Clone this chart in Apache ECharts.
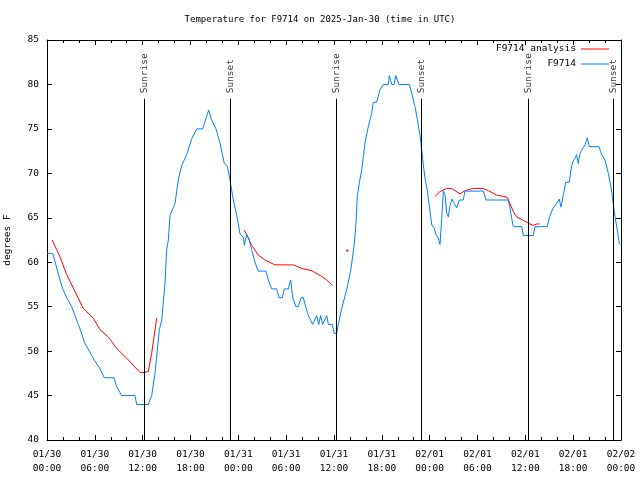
<!DOCTYPE html>
<html>
<head>
<meta charset="utf-8">
<script src="https://cdn.jsdelivr.net/npm/echarts@6/dist/echarts.min.js"></script>
<style>html,body{margin:0;padding:0;background:#fff}#c{width:640px;height:480px}</style>
</head>
<body>
<div id="c"></div>
<script>
// hours since 2025-01-30 00:00 UTC
var obsHours = [0.00,0.72,1.00,1.63,1.97,2.47,3.10,3.51,3.93,4.35,4.68,5.31,5.93,6.65,7.19,8.40,8.74,9.37,11.04,11.25,12.71,13.13,13.55,14.09,14.39,14.80,15.01,15.22,15.43,16.06,16.47,16.90,17.52,18.15,18.78,19.53,19.94,20.28,20.66,21.20,21.70,22.24,22.62,22.95,23.37,23.79,24.21,24.62,24.75,25.05,25.34,25.68,26.09,26.51,27.47,27.76,28.19,28.81,29.10,29.52,29.77,30.27,30.57,30.82,31.23,31.52,31.86,32.15,32.45,32.78,33.33,33.53,33.83,34.08,34.33,34.58,35.09,35.29,35.79,36.04,36.34,36.54,36.97,37.59,38.10,38.51,38.76,38.92,39.17,39.48,39.89,40.30,40.73,40.93,41.35,41.77,42.19,42.81,42.94,43.24,43.53,43.74,43.99,44.15,45.45,45.75,46.16,46.45,46.79,47.00,47.20,47.42,47.70,47.95,48.26,48.54,48.80,49.08,49.30,49.51,49.71,49.92,50.14,50.34,50.55,50.80,51.05,51.39,51.72,52.22,52.43,54.73,55.07,57.87,58.08,58.29,58.49,59.55,59.75,61.00,61.21,62.76,63.01,63.43,63.93,64.26,64.47,64.76,65.06,65.52,65.73,65.94,66.23,66.44,66.64,66.86,67.20,67.49,67.77,68.03,69.24,69.58,70.00,70.41,70.74,71.03,71.25,71.54,71.79,71.94];
var obsTemps = [61.0,61.0,60.1,58.0,57.0,56.0,55.0,54.0,53.0,52.0,51.0,50.0,49.0,48.0,47.0,47.0,46.0,45.0,45.0,44.0,44.0,45.0,47.5,52.4,53.5,57.6,61.4,62.5,65.3,66.6,69.3,70.9,72.1,73.9,75.0,75.0,76.2,77.1,76.0,75.0,73.4,71.1,70.8,69.25,67.0,65.3,63.2,62.8,61.9,63.1,62.6,61.4,60.0,59.0,59.0,58.0,57.0,57.0,56.0,56.0,57.0,57.0,58.0,56.0,55.0,55.0,56.0,56.0,55.0,54.0,53.0,53.0,54.0,53.0,54.0,53.0,54.0,53.0,53.0,52.0,52.0,53.0,54.8,56.9,59.1,61.75,64.4,67.4,68.9,70.4,73.4,75.25,76.75,78.0,78.0,79.4,80.0,80.0,81.0,80.0,80.0,81.0,81.0,80.0,80.0,79.0,77.5,76.1,74.3,72.6,71.0,69.4,68.1,66.4,64.2,63.9,63.1,62.7,62.0,64.9,68.0,67.6,65.5,65.1,66.4,67.1,67.0,66.1,67.0,67.0,68.0,68.0,67.0,67.0,66.1,64.9,64.0,64.0,63.0,63.0,64.0,64.0,65.0,66.0,66.6,67.1,66.2,67.5,69.0,69.0,70.4,71.3,71.7,72.1,71.1,72.25,72.8,73.2,74.0,73.0,73.0,72.1,71.5,70.0,68.5,66.6,65.1,63.6,62.1,62.0];

// analysis (null = gap)
var anaHours = [0.66,1.63,2.47,3.30,4.55,5.81,6.65,7.69,8.74,10.00,11.04,11.67,12.17,12.71,13.13,13.42,13.76,19.0,
  24.75,25.05,25.68,26.51,27.35,28.60,30.90,31.95,33.20,34.46,35.09,35.79,36.7,
  37.67,38.2,
  48.67,49.30,50.14,50.77,51.18,51.81,52.43,53.06,53.48,54.73,55.36,56.41,57.24,57.74,58.08,58.49,58.92,59.75,60.59,61.00,61.43,61.78];
var anaTemps = [62.5,60.6,58.6,57.1,54.8,53.7,52.4,51.6,50.3,49.2,48.2,47.6,47.6,47.7,49.75,51.6,53.7,null,
  63.6,63.1,61.9,60.8,60.25,59.7,59.7,59.3,59.05,58.4,58.0,57.4,null,
  61.3,null,
  67.4,67.95,68.3,68.3,68.05,67.7,68.05,68.2,68.3,68.3,68.05,67.55,67.4,67.3,66.6,65.7,65.1,64.7,64.3,64.15,64.3,64.3];

var sunHours = [12.21, 22.99, 36.29, 46.95, 60.38, 71.04];
var sunNames = ['Sunrise','Sunset','Sunrise','Sunset','Sunrise','Sunset'];

var dayLabels = ['01/30','01/31','02/01','02/02'];
var yTicks = [40,45,50,55,60,65,70,75,80,85];

var FONT = 'DejaVu Sans Mono';
var FS = 9.5;

function zip(a,b){var r=[];for(var i=0;i<a.length;i++){r.push(b[i]===null?[a[i],null]:[a[i],b[i]]);}return r;}
var anaData = zip(anaHours, anaTemps).map(function(p, i){
  var prevNull = i===0 || anaTemps[i-1]===null;
  var nextNull = i===anaTemps.length-1 || anaTemps[i+1]===null;
  if (p[1]!==null && prevNull && nextNull) return {value:p, symbol:'rect', symbolSize:[2,2], itemStyle:{color:'#ff0000'}};
  return {value:p, symbol:'none'};
});

function xLabel(v){
  var d = Math.floor(v/24+1e-6), h = Math.round(v - d*24);
  var hh = (h<10?'0':'')+h;
  return dayLabels[d] + '\n' + hh + ':00';
}

var chart = echarts.init(document.getElementById('c'), null, {renderer:'canvas'});
var legendIcon = 'path://M0,0 L28,0 L28,1 L0,1 Z';
chart.setOption({
  animation:false,
  backgroundColor:'#fff',
  title:{text:'Temperature for F9714 on 2025-Jan-30 (time in UTC)', left:'center', top:10,
    textStyle:{fontFamily:FONT,fontSize:9,fontWeight:'normal',color:'#000'}},
  grid:{left:47,right:19,top:40,bottom:40,containLabel:false,outerBoundsMode:'none'},
  legend:{orient:'vertical', right:31, top:44, align:'right', itemWidth:28, itemHeight:1, itemGap:5, padding:0,
    textStyle:{fontFamily:FONT,fontSize:FS,color:'#000'},
    data:[{name:'F9714 analysis', icon:legendIcon},{name:'F9714', icon:legendIcon}]},
  xAxis:[{type:'value', min:0, max:72, interval:6, position:'bottom',
    axisLine:{show:true,onZero:false,lineStyle:{color:'#000',width:1}},
    axisTick:{show:true,inside:true,length:5,lineStyle:{color:'#000'}},
    minorTick:{show:true,splitNumber:3,length:3,lineStyle:{color:'#000'}},
    splitLine:{show:false},
    axisLabel:{formatter:xLabel, fontFamily:FONT, fontSize:FS, color:'#000', margin:8, lineHeight:14}},
   {type:'value', min:0, max:72, interval:6, position:'top',
    axisLine:{show:true,onZero:false,lineStyle:{color:'#000',width:1}},
    axisTick:{show:true,inside:true,length:5,lineStyle:{color:'#000'}},
    minorTick:{show:true,splitNumber:3,length:3,lineStyle:{color:'#000'}},
    splitLine:{show:false}, axisLabel:{show:false}}],
  yAxis:[{type:'value', min:yTicks[0], max:yTicks[yTicks.length-1], interval:5, position:'left',
    name:'degrees F', nameLocation:'middle', nameGap:34, nameRotate:90,
    nameTextStyle:{fontFamily:FONT,fontSize:FS,color:'#000'},
    axisLine:{show:true,onZero:false,lineStyle:{color:'#000',width:1}},
    axisTick:{show:true,inside:true,length:5,lineStyle:{color:'#000'}},
    splitLine:{show:false},
    axisLabel:{fontFamily:FONT,fontSize:FS,color:'#000',margin:8}},
   {type:'value', min:yTicks[0], max:yTicks[yTicks.length-1], interval:5, position:'right',
    axisLine:{show:true,onZero:false,lineStyle:{color:'#000',width:1}},
    axisTick:{show:true,inside:true,length:5,lineStyle:{color:'#000'}},
    splitLine:{show:false}, axisLabel:{show:false}}],
  series:[
    {name:'F9714 analysis', type:'line', data:anaData, showSymbol:true, symbol:'none', connectNulls:false,
      lineStyle:{color:'#ff0000',width:1}, itemStyle:{color:'#ff0000'}, z:3},
    {name:'F9714', type:'line', data:zip(obsHours, obsTemps), showSymbol:false, symbol:'none',
      lineStyle:{color:'#0080ff',width:1}, itemStyle:{color:'#0080ff'}, z:4},
    {name:'events', type:'scatter', symbolSize:0, z:5, silent:true,
      data:sunHours.map(function(t,i){return {value:[t,79.0], name:sunNames[i]};}),
      label:{show:true, formatter:function(p){return p.name;}, position:[0,0], rotate:90,
        align:'left', verticalAlign:'middle', fontFamily:FONT, fontSize:FS, color:'#000'},
      markLine:{silent:true, symbol:['none','none'], label:{show:false},
        lineStyle:{color:'#000',width:1,type:'solid'},
        data:sunHours.map(function(t){return [{coord:[t,40]},{coord:[t,78.4]}];})}}
  ]
});
</script>
</body>
</html>
